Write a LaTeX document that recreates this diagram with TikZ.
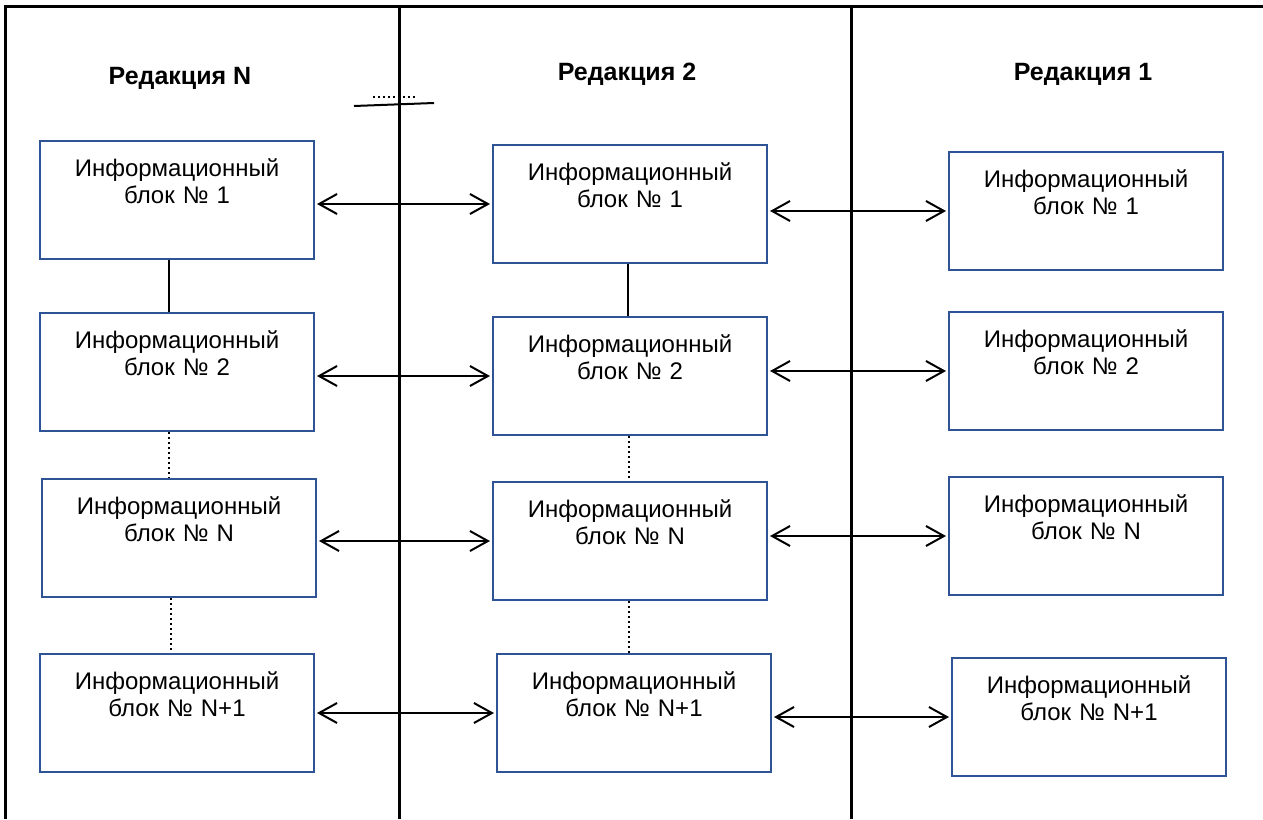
\documentclass[tikz,border=0pt]{standalone}
\usepackage{fontspec}
\setmainfont{Liberation Sans}
\usetikzlibrary{arrows.meta}

\definecolor{blokblue}{RGB}{47,84,150}

\tikzset{
  blok/.style={draw=blokblue, line width=1pt, inner sep=0pt, anchor=north west,
    text width=137pt, align=center, text height=17.75pt, text depth=41.25pt,
    font=\fontsize{12}{13.5}\selectfont},
  zagolovok/.style={font=\fontsize{12.5}{14}\selectfont\bfseries, inner sep=0pt},
  svyaz/.style={{Straight Barb[length=9pt,width=10pt]}-{Straight Barb[length=9pt,width=10pt]},
    line width=1pt, shorten <=1pt, shorten >=1pt},
  sploshnaya/.style={line width=1pt},
  punktir/.style={line width=1pt, dash pattern=on 1pt off 1.5pt},
  ramka/.style={line width=1.5pt}
}

\begin{document}
\begin{tikzpicture}[x=0.5pt,y=-0.5pt]
  \useasboundingbox (0,0) rectangle (1263,819);

  % frame and dividers
  \draw[ramka] (5,819) -- (5,6) -- (1263,6);
  \draw[ramka] (399,6) -- (399,819);
  \draw[ramka] (851,6) -- (851,819);

  % break mark
  \draw[line width=1pt] (354,106) -- (434,103);
  \draw[punktir] (373,97) -- (418,97);

  % titles
  \node[zagolovok] (redN) at (180,78) {Редакция N};
  \node[zagolovok] (red2) at (627,74) {Редакция 2};
  \node[zagolovok] (red1) at (1083,74) {Редакция 1};

  % edition N
  \node[blok] (c1b1) at (39,140) {Информационный\\блок № 1};
  \node[blok] (c1b2) at (39,312) {Информационный\\блок № 2};
  \node[blok] (c1b3) at (41,478) {Информационный\\блок № N};
  \node[blok] (c1b4) at (39,653) {Информационный\\блок № N+1};

  % edition 2
  \node[blok] (c2b1) at (492,144) {Информационный\\блок № 1};
  \node[blok] (c2b2) at (492,316) {Информационный\\блок № 2};
  \node[blok] (c2b3) at (492,481) {Информационный\\блок № N};
  \node[blok] (c2b4) at (496,653) {Информационный\\блок № N+1};

  % edition 1
  \node[blok] (c3b1) at (948,151) {Информационный\\блок № 1};
  \node[blok] (c3b2) at (948,311) {Информационный\\блок № 2};
  \node[blok] (c3b3) at (948,476) {Информационный\\блок № N};
  \node[blok] (c3b4) at (951,657) {Информационный\\блок № N+1};

  % links inside an edition
  \draw[sploshnaya] ([xshift=-4pt]c1b1.south) -- ([xshift=-4pt]c1b1.south |- c1b2.north);
  \draw[punktir] ([xshift=-4pt]c1b2.south) -- ([xshift=-4pt]c1b2.south |- c1b3.north);
  \draw[punktir] ([xshift=-4pt]c1b3.south) -- ([xshift=-4pt]c1b3.south |- c1b4.north);
  \draw[sploshnaya] ([xshift=-1pt]c2b1.south) -- ([xshift=-1pt]c2b1.south |- c2b2.north);
  \draw[punktir] ([xshift=-0.5pt]c2b2.south) -- ([xshift=-0.5pt]c2b2.south |- c2b3.north);
  \draw[punktir] ([xshift=-0.5pt]c2b3.south) -- ([xshift=-0.5pt]c2b3.south |- c2b4.north);

  % links between editions
  \draw[svyaz] (c2b1.west -| c1b1.east) -- (c2b1.west);
  \draw[svyaz] (c3b1.west -| c2b1.east) -- (c3b1.west);
  \draw[svyaz] (c2b2.west -| c1b2.east) -- (c2b2.west);
  \draw[svyaz] (c3b2.west -| c2b2.east) -- (c3b2.west);
  \draw[svyaz] (c2b3.west -| c1b3.east) -- (c2b3.west);
  \draw[svyaz] (c3b3.west -| c2b3.east) -- (c3b3.west);
  \draw[svyaz] (c2b4.west -| c1b4.east) -- (c2b4.west);
  \draw[svyaz] (c3b4.west -| c2b4.east) -- (c3b4.west);
\end{tikzpicture}
\end{document}
